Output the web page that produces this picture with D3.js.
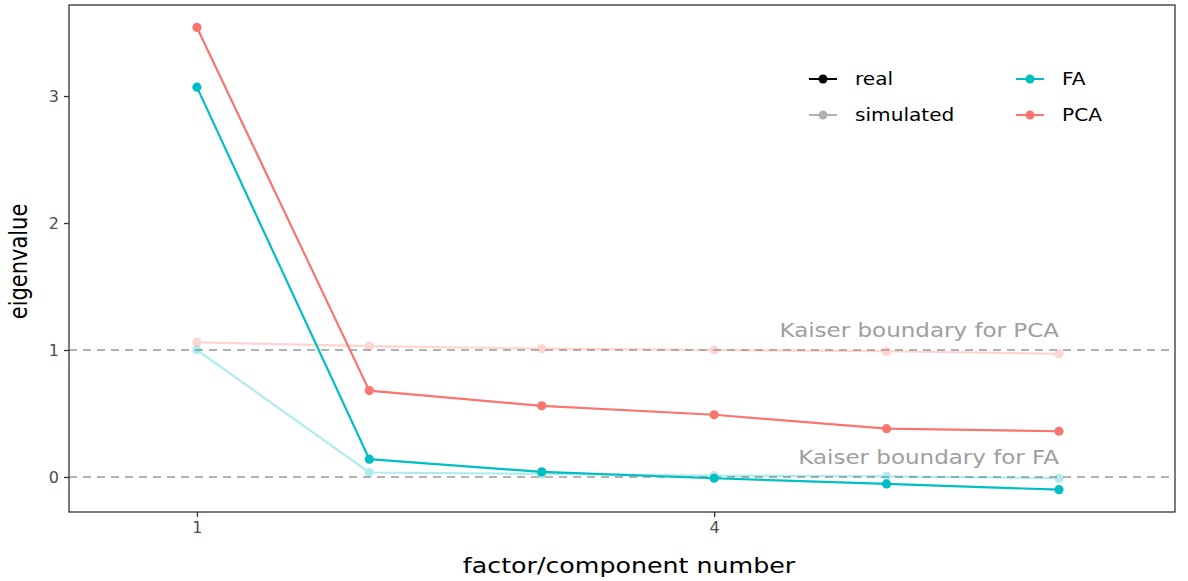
<!DOCTYPE html>
<html>
<head>
<meta charset="utf-8">
<script src="https://cdn.jsdelivr.net/npm/d3@7"></script>
<style>
  body { margin: 0; background: #fff; }
  svg text { font-family: "DejaVu Sans", sans-serif; }
</style>
</head>
<body>
<svg id="plotSvg"></svg>
<script>
// factor / component numbers
const components = [1, 2, 3, 4, 5, 6];
const xTicks = [1, 4];
const yTicks = [0, 1, 2, 3];

// eigenvalues
const pcaReal = [3.54, 0.68, 0.56, 0.49, 0.38, 0.36];
const faReal = [3.07, 0.14, 0.04, -0.01, -0.055, -0.10];
const pcaSim = [1.06, 1.03, 1.01, 1.00, 0.99, 0.97];
const faSim = [1.00, 0.035, 0.025, 0.01, 0.005, -0.01];

const kaiserLines = [
    { value: 1, label: "Kaiser boundary for PCA" },
    { value: 0, label: "Kaiser boundary for FA" }
];

const colFA = "#00BFC4", colPCA = "#F8766D";
const stretch = 1.15; // the picture's text is a bit wider than it is tall

const margin = { top: 5, right: 13, bottom: 69, left: 69 },
    W = 1188, H = 581,
    width = W - margin.left - margin.right,
    height = H - margin.top - margin.bottom;

const svg = d3.select("#plotSvg")
    .attr("width", W)
    .attr("height", H);

const g = svg.append("g")
    .attr("transform", `translate(${margin.left},${margin.top})`);

const x = d3.scaleLinear()
    .domain([0.258, 6.673])
    .range([0, width]);

const y = d3.scaleLinear()
    .domain([-0.276, 3.717])
    .range([height, 0]);

// dashed Kaiser reference lines
g.selectAll(".kaiser")
    .data(kaiserLines)
    .join("line")
    .attr("x1", 0)
    .attr("x2", width)
    .attr("y1", d => y(d.value))
    .attr("y2", d => y(d.value))
    .attr("stroke", "#999999")
    .attr("stroke-width", 1.6)
    .attr("stroke-dasharray", "8,6");

g.selectAll(".kaiserText")
    .data(kaiserLines)
    .join("text")
    .attr("transform", d => `translate(${x(6)},${y(d.value) - 13}) scale(${stretch},1)`)
    .attr("text-anchor", "end")
    .style("font-size", "20px")
    .attr("fill", "#9e9e9e")
    .text(d => d.label);

const series = [
    { vals: pcaSim, color: colPCA, op: 0.3 },
    { vals: faSim, color: colFA, op: 0.3 },
    { vals: pcaReal, color: colPCA, op: 1 },
    { vals: faReal, color: colFA, op: 1 }
];

const line = d3.line()
    .x((d, i) => x(components[i]))
    .y(d => y(d));

series.forEach(s => {
    const sg = g.append("g").attr("opacity", s.op);
    sg.append("path")
        .datum(s.vals)
        .attr("d", line)
        .attr("fill", "none")
        .attr("stroke", s.color)
        .attr("stroke-width", 2.2);
    sg.selectAll("circle")
        .data(s.vals)
        .join("circle")
        .attr("cx", (d, i) => x(components[i]))
        .attr("cy", d => y(d))
        .attr("r", 4.6)
        .attr("fill", s.color);
});

// panel border
g.append("rect")
    .attr("width", width)
    .attr("height", height)
    .attr("fill", "none")
    .attr("stroke", "#333333")
    .attr("stroke-width", 1.3);

// axes
const xAxis = g.append("g")
    .attr("transform", `translate(0,${height})`)
    .call(d3.axisBottom(x).tickValues(xTicks).tickSize(5).tickPadding(5).tickFormat(d3.format("d")));
const yAxis = g.append("g")
    .call(d3.axisLeft(y).tickValues(yTicks).tickSize(5).tickPadding(5).tickFormat(d3.format("d")));

[xAxis, yAxis].forEach(a => {
    a.select(".domain").remove();
    a.selectAll(".tick line").attr("stroke", "#333333").attr("stroke-width", 1.3);
    a.selectAll(".tick text")
        .attr("fill", "#4d4d4d")
        .style("font-size", "16px")
        .style("font-family", "DejaVu Sans, sans-serif");
});

svg.append("text")
    .attr("transform", `translate(${margin.left + width / 2 + 7},${H - 8}) scale(${stretch},1)`)
    .attr("text-anchor", "middle")
    .style("font-size", "22px")
    .attr("fill", "#000")
    .text("factor/component number");

svg.append("text")
    .attr("transform", `translate(27,${margin.top + height / 2 + 3}) scale(${stretch},1) rotate(-90)`)
    .attr("text-anchor", "middle")
    .style("font-size", "21px")
    .attr("fill", "#000")
    .text("eigenvalue");

// legend
const legendType = [
    { label: "real", color: "#000000", op: 1 },
    { label: "simulated", color: "#000000", op: 0.3 }
];
const legendMethod = [
    { label: "FA", color: colFA, op: 1 },
    { label: "PCA", color: colPCA, op: 1 }
];

function drawLegend(items, x0) {
    const lg = svg.append("g").attr("transform", `translate(${x0},79)`);
    const row = lg.selectAll("g")
        .data(items)
        .join("g")
        .attr("transform", (d, i) => `translate(0,${i * 36})`);
    const key = row.append("g").attr("opacity", d => d.op);
    key.append("line")
        .attr("x1", 0).attr("x2", 28)
        .attr("stroke", d => d.color)
        .attr("stroke-width", 2);
    key.append("circle")
        .attr("cx", 14)
        .attr("r", 4.5)
        .attr("fill", d => d.color);
    row.append("text")
        .attr("transform", `translate(46,0) scale(${stretch},1)`)
        .attr("dy", "0.35em")
        .style("font-size", "17.5px")
        .attr("fill", "#000")
        .text(d => d.label);
}
drawLegend(legendType, 809);
drawLegend(legendMethod, 1016);
</script>
</body>
</html>
